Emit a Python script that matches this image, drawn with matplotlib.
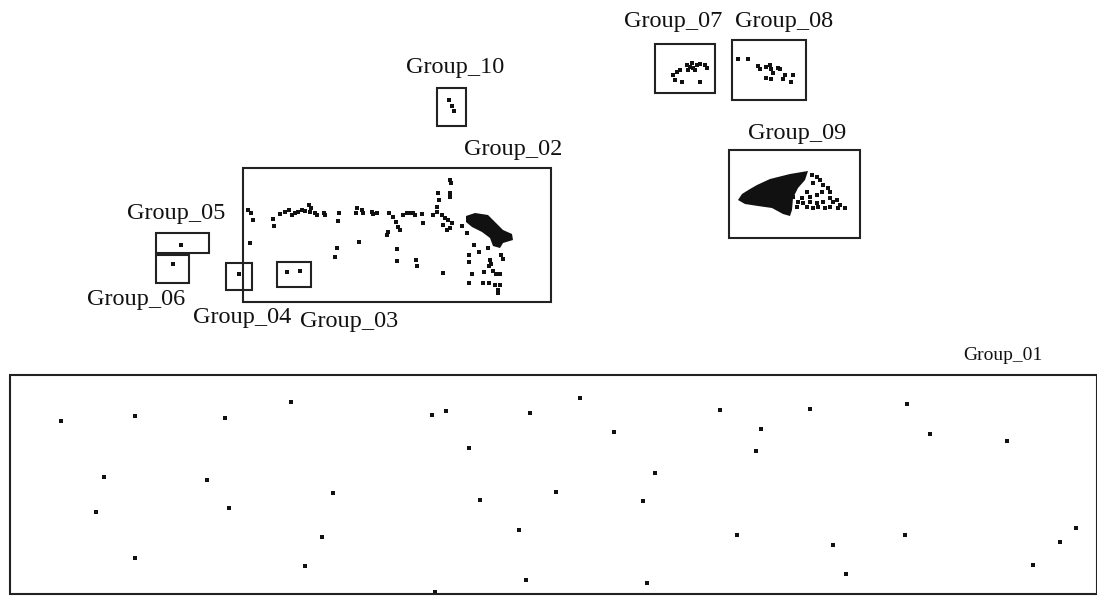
import matplotlib.pyplot as plt
from matplotlib.patches import Rectangle

# scatter points per group (image pixel coords)
g01_x = [61, 135, 225, 291, 432, 446, 530, 580, 614, 720, 761, 810, 907, 930, 1007,
         104, 207, 96, 229, 333, 469, 480, 556, 655, 643, 756,
         135, 305, 322, 519, 526, 435, 647, 737, 833, 846, 905, 1033, 1060, 1076]
g01_y = [421, 416, 418, 402, 415, 411, 413, 398, 432, 410, 429, 409, 404, 434, 441,
         477, 480, 512, 508, 493, 448, 500, 492, 473, 501, 451,
         558, 566, 537, 530, 580, 592, 583, 535, 545, 574, 535, 565, 542, 528]

g02_x = [248, 251, 253, 250, 273, 274, 280, 285, 289, 292, 295, 298, 302, 305, 309, 311, 310,
         315, 317, 324, 325, 339, 338, 337, 335, 357, 356, 362, 363, 359, 372, 373, 377,
         389, 393, 396, 398, 400, 388, 387, 397, 397, 403, 407, 410, 413, 415, 422, 423,
         416, 417, 433, 437, 438, 437, 439, 450, 451, 450, 450, 442, 445, 448, 452, 443,
         450, 447, 443, 462, 467, 474, 479, 469, 469, 488, 490, 491, 489, 484, 493, 496,
         500, 472, 469, 483, 489, 495, 500, 498, 498, 501, 503]
g02_y = [210, 213, 220, 243, 219, 226, 214, 212, 210, 215, 213, 212, 210, 211, 205, 208, 212,
         213, 215, 213, 215, 213, 221, 248, 257, 208, 213, 210, 213, 242, 212, 214, 213,
         213, 217, 222, 227, 230, 232, 235, 249, 261, 215, 213, 213, 213, 215, 214, 223,
         260, 266, 215, 212, 193, 207, 200, 180, 183, 193, 197, 215, 218, 220, 223, 225,
         228, 230, 273, 226, 233, 245, 252, 255, 262, 248, 260, 264, 266, 272, 271, 274,
         274, 274, 283, 283, 283, 285, 285, 290, 293, 255, 259]
# dense black area of group 02 (outline)
g02_blob_x = [466, 475, 488, 495, 503, 512, 513, 503, 500, 493, 490, 482, 472, 466]
g02_blob_y = [216, 213, 215, 222, 230, 234, 240, 243, 248, 246, 238, 232, 227, 222]

g03_x = [287, 300]
g03_y = [272, 271]
g04_x = [239]
g04_y = [274]
g05_x = [181]
g05_y = [245]
g06_x = [173]
g06_y = [264]

g07_x = [690, 687, 692, 688, 693, 697, 700, 705, 707, 680, 677, 673, 675, 682, 700, 695]
g07_y = [67, 65, 63, 70, 68, 65, 64, 65, 68, 70, 72, 75, 80, 82, 82, 70]

g08_x = [738, 748, 758, 760, 766, 770, 771, 773, 778, 780, 766, 771, 783, 785, 793, 791]
g08_y = [59, 59, 66, 69, 67, 65, 69, 73, 68, 69, 78, 79, 79, 75, 75, 82]

g09_x = [812, 817, 820, 813, 823, 828, 830, 822, 817, 810, 807, 802, 798, 803, 810, 817,
         823, 830, 833, 837, 840, 845, 838, 830, 825, 818, 813, 807, 797, 793, 788, 783,
         780, 785, 777, 773]
g09_y = [175, 177, 180, 183, 185, 188, 192, 192, 195, 197, 192, 198, 202, 203, 202, 203,
         202, 198, 202, 200, 205, 208, 208, 207, 208, 207, 208, 207, 207, 197, 192, 193,
         197, 200, 198, 195]
g09_blob_x = [738, 742, 750, 757, 770, 790, 808, 805, 798, 793, 792, 790, 783, 772, 758, 745]
g09_blob_y = [200, 194, 189, 185, 179, 174, 171, 180, 188, 198, 210, 216, 214, 208, 206, 204]

g10_x = [449, 452, 454]
g10_y = [100, 106, 111]

# boxes: name, x0, y0, x1, y1, label x, label y, label size
boxes = [
    ("Group_01", 10, 375, 1097, 594, 1003, 355, 14),
    ("Group_02", 243, 168, 551, 302, 513, 150, 17.5),
    ("Group_03", 277, 262, 311, 287, 349, 322, 17.5),
    ("Group_04", 226, 263, 252, 290, 242, 318, 17.5),
    ("Group_05", 156, 233, 209, 253, 176, 214, 17.5),
    ("Group_06", 156, 255, 189, 283, 136, 300, 17.5),
    ("Group_07", 655, 44, 715, 93, 673, 22, 17.5),
    ("Group_08", 732, 40, 806, 100, 784, 22, 17.5),
    ("Group_09", 729, 150, 860, 238, 797, 133, 17.5),
    ("Group_10", 437, 88, 466, 126, 455, 68, 17.5),
]

fig = plt.figure(figsize=(10.97, 5.96), dpi=100)
ax = fig.add_axes([0, 0, 1, 1])
ax.set_xlim(0, 1097)
ax.set_ylim(596, 0)
ax.axis('off')

pts = [(g01_x, g01_y), (g02_x, g02_y), (g03_x, g03_y), (g04_x, g04_y), (g05_x, g05_y),
       (g06_x, g06_y), (g07_x, g07_y), (g08_x, g08_y), (g09_x, g09_y), (g10_x, g10_y)]
for xs, ys in pts:
    ax.scatter(xs, ys, s=7, marker='s', color='#111111', linewidths=0)

ax.fill(g02_blob_x, g02_blob_y, color='#111111', lw=0)
ax.fill(g09_blob_x, g09_blob_y, color='#111111', lw=0)

for name, x0, y0, x1, y1, lx, ly, fs in boxes:
    ax.add_patch(Rectangle((x0, y0), x1 - x0, y1 - y0, fill=False,
                           edgecolor='#222222', lw=1.5))
    ax.text(lx, ly, name, ha='center', va='center', fontsize=fs,
            family='Liberation Serif', color='#111111')

fig.savefig('out.png', dpi=100)
